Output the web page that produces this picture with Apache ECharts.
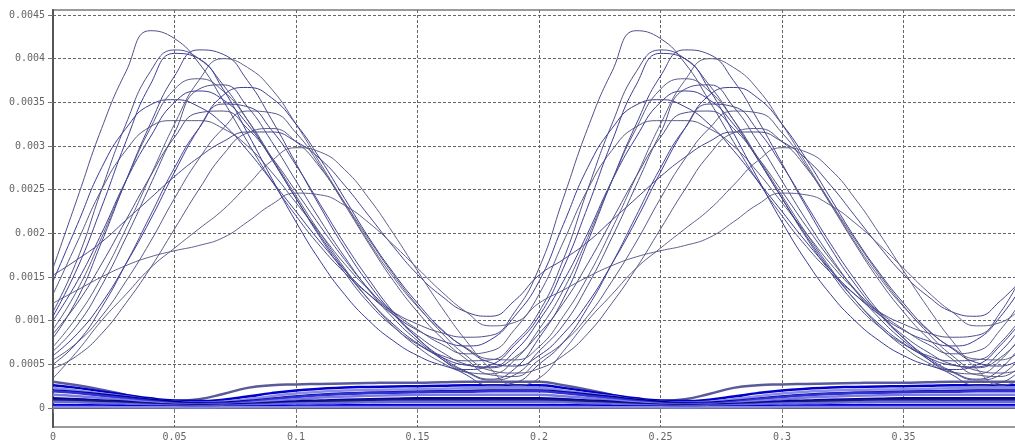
<!DOCTYPE html>
<html>
<head>
<meta charset="utf-8">
<script src="https://cdn.jsdelivr.net/npm/echarts@6/dist/echarts.min.js"></script>
<style>html,body{margin:0;padding:0;background:#fff}#c{width:1015px;height:442px}</style>
</head>
<body>
<div id="c"></div>
<script>
// Values are in units of 1e-4, sampled every 0.01 over one period (x = 0 .. 0.19); period = 0.2
const UNIT = 1e-4;
const STEP = 0.01;
const PERIODS = 2;
const xTicks = [0, 0.05, 0.1, 0.15, 0.2, 0.25, 0.3, 0.35, 0.4];
const yTicks = [0, 0.0005, 0.001, 0.0015, 0.002, 0.0025, 0.003, 0.0035, 0.004, 0.0045];

const bigA  = [16, 24, 32, 38.5, 43.2, 42.3, 39.5, 35.2, 30.5, 26, 22, 18.5, 15.5, 13, 11, 9.6, 8.6, 8.1, 8.3, 11];
const bigH  = [14.5, 21, 27.5, 32, 34.7, 35.3, 34.5, 32.5, 29.5, 26, 22.5, 19, 15.8, 13, 10.7, 8.9, 7.7, 7.1, 7.8, 10.5];
const bigI  = [13, 19, 25, 29.5, 32.2, 32.9, 32.9, 32, 30, 27, 23.5, 20, 16.5, 13.5, 11, 9, 7.3, 6.2, 6.5, 9];
const bigN  = [15.2, 17, 19, 21.5, 24, 26.5, 28.7, 30.5, 31.6, 31.6, 30.5, 28.5, 25.5, 22, 18.5, 15.3, 12.8, 11, 10.5, 12.3];
const bigL  = [12, 13.5, 15, 16.3, 17.3, 18, 18.6, 19.5, 21.3, 23.3, 24.6, 24.4, 23.2, 21.2, 18.7, 16, 13.3, 11, 9.4, 9.8];
const bigB1 = [11, 17, 25, 32.5, 38.5, 41, 40, 37, 33, 28.5, 24, 19.5, 15.5, 12, 9.3, 7.3, 6, 5.4, 5.5, 7.5];
const bigG  = [10, 14.5, 20, 26, 31, 35, 36.3, 35.3, 32.5, 28.5, 24, 19.7, 15.8, 12.4, 9.6, 7.4, 5.8, 4.9, 4.7, 6.5];
const bigD  = [9, 13.5, 19.5, 26, 32, 36.5, 37.7, 36.3, 33, 28.7, 24.3, 20, 16, 12.4, 9.4, 7, 5.2, 4.1, 3.9, 5.5];
const bigB2 = [8, 12.5, 19, 26, 32.5, 38, 41, 40.5, 37.5, 33, 28, 23, 18.3, 14.2, 10.8, 8, 5.8, 4.2, 3.3, 4.5];
const bigC  = [7, 10.5, 15, 20.5, 26.5, 32.5, 37.5, 40, 39, 36.5, 32.5, 28, 23.5, 19, 15, 11.6, 8.9, 6.9, 5.6, 5.5];
const bigE  = [6.5, 9.5, 14, 19.5, 25.5, 31.5, 36.5, 37, 34.5, 30.5, 26, 21.5, 17.3, 13.5, 10.3, 7.7, 5.6, 4.1, 3.2, 3.8];
const bigF  = [6, 8.5, 12, 16.5, 21.5, 27, 32, 35.8, 36.7, 35.5, 32.5, 28.5, 24, 19.5, 15.5, 12, 9, 6.8, 5.2, 4.8];
const bigJ  = [5.5, 7.5, 10.5, 14.5, 19, 24, 28.5, 32, 34, 33.8, 31.5, 27.7, 23.3, 18.8, 14.6, 11, 8, 5.6, 3.8, 3.6];
const bigJ2 = [5, 7.5, 11.5, 16.5, 22, 27.5, 32, 34.8, 34.5, 31.8, 27.8, 23.3, 18.8, 14.7, 11, 8, 5.6, 3.8, 2.6, 2.9];
const bigK  = [3.4, 6.5, 10, 13, 16, 18.3, 20.5, 22.7, 25.5, 28.3, 29.8, 29.3, 27.3, 24, 20, 15.7, 11.5, 7.7, 4.5, 2.6];
const bigP  = [8.5, 12, 16.5, 21.5, 26.5, 31, 33.8, 34, 32, 28.7, 24.8, 20.8, 17, 13.6, 10.7, 8.3, 6.4, 5, 4.6, 5.8];
const bigQ  = [10.5, 16, 23, 30.5, 37, 40.6, 40, 36.5, 31.5, 26.3, 21.3, 16.8, 13, 10, 7.7, 6, 4.9, 4.4, 4.9, 7.2];
const bigR  = [4.5, 6, 8.5, 12, 16, 20.5, 25, 29, 31.5, 32, 30.5, 27.5, 23.5, 19.3, 15.3, 11.7, 8.6, 6, 4.3, 4];

const small1  = [3.0, 2.6, 2.1, 1.5, 1.0, 0.8, 1.0, 1.6, 2.3, 2.6, 2.7, 2.75, 2.8, 2.85, 2.9, 2.9, 2.95, 3.0, 3.0, 3.0];
const small2  = [2.6, 2.3, 1.9, 1.5, 1.1, 0.85, 0.8, 0.95, 1.3, 1.7, 2.0, 2.2, 2.35, 2.4, 2.45, 2.5, 2.55, 2.6, 2.6, 2.6];
const small3  = [2.3, 2.0, 1.65, 1.3, 0.95, 0.7, 0.6, 0.7, 1.0, 1.35, 1.65, 1.85, 2.0, 2.05, 2.1, 2.15, 2.2, 2.25, 2.3, 2.3];
const small4  = [2.0, 1.8, 1.55, 1.25, 0.95, 0.7, 0.55, 0.6, 0.8, 1.05, 1.3, 1.5, 1.65, 1.75, 1.8, 1.85, 1.9, 1.95, 2.0, 2.0];
const small5  = [1.9, 1.7, 1.4, 1.1, 0.8, 0.55, 0.45, 0.5, 0.7, 1.0, 1.25, 1.45, 1.6, 1.7, 1.75, 1.8, 1.85, 1.85, 1.9, 1.9];
const small6  = [1.5, 1.35, 1.15, 0.9, 0.65, 0.45, 0.35, 0.4, 0.55, 0.8, 1.0, 1.2, 1.3, 1.4, 1.45, 1.5, 1.5, 1.5, 1.5, 1.5];
const small7  = [1.1, 1.0, 0.85, 0.7, 0.5, 0.35, 0.3, 0.35, 0.45, 0.6, 0.75, 0.85, 0.95, 1.0, 1.05, 1.1, 1.1, 1.1, 1.1, 1.1];
const small8  = [0.9, 0.85, 0.75, 0.6, 0.45, 0.35, 0.3, 0.3, 0.4, 0.5, 0.6, 0.7, 0.8, 0.85, 0.9, 0.9, 0.9, 0.9, 0.9, 0.9];
const small9  = [0.7, 0.65, 0.55, 0.45, 0.35, 0.25, 0.2, 0.25, 0.3, 0.4, 0.5, 0.55, 0.6, 0.65, 0.7, 0.7, 0.7, 0.7, 0.7, 0.7];
const small10 = [0.35, 0.32, 0.28, 0.22, 0.18, 0.14, 0.12, 0.13, 0.16, 0.2, 0.24, 0.28, 0.3, 0.32, 0.33, 0.34, 0.35, 0.35, 0.35, 0.35];
const small11 = [0.12, 0.11, 0.1, 0.09, 0.08, 0.07, 0.06, 0.07, 0.08, 0.09, 0.1, 0.11, 0.12, 0.12, 0.12, 0.12, 0.12, 0.12, 0.12, 0.12];

const bigCurves = [bigA, bigH, bigI, bigN, bigL, bigB1, bigG, bigD, bigB2, bigC, bigE, bigF, bigJ, bigJ2, bigK, bigP, bigQ, bigR];
const smallCurves = [small1, small2, small3, small4, small5, small6, small7, small8, small9, small10, small11];

const bigColors = ['#50508a', '#3c3c96', '#5a5a86', '#454590', '#60608c'];
const smallColors = ['#5a5a9a', '#0000cc', '#8c8ce8', '#000088', '#3030d8', '#7b7be0', '#0000aa', '#1a1a70', '#6a6ae0', '#0000dd', '#8888e0'];

function periodic(vals) {
  const out = [];
  const n = vals.length;
  for (let p = 0; p < PERIODS; p++) {
    for (let i = 0; i < n; i++) {
      out.push([+((p * n + i) * STEP).toFixed(2), vals[i] * UNIT]);
    }
  }
  out.push([+((PERIODS * n) * STEP).toFixed(2), vals[0] * UNIT]);
  return out;
}

const series = [];
smallCurves.forEach((c, i) => series.push({
  type: 'line', data: periodic(c), showSymbol: false, smooth: 0.5,
  lineStyle: { color: smallColors[i % smallColors.length], width: 2.5 }, silent: true
}));
bigCurves.forEach((c, i) => series.push({
  type: 'line', data: periodic(c), showSymbol: false, smooth: 0.5,
  lineStyle: { color: bigColors[i % bigColors.length], width: 1 }, silent: true
}));

const chart = echarts.init(document.getElementById('c'), null, { renderer: 'canvas' });
chart.setOption({
  animation: false,
  backgroundColor: '#ffffff',
  grid: { left: 53, top: 10, right: -10, bottom: 15, show: true, borderColor: '#9a9a9a', borderWidth: 2,
    containLabel: false, outerBoundsMode: 'none' },
  xAxis: {
    type: 'value', min: 0, max: 0.4, interval: 0.05,
    axisLine: { show: true, lineStyle: { color: '#555', width: 2 } },
    axisTick: { show: true, length: 5, lineStyle: { color: '#777' } },
    axisLabel: { color: '#666', fontFamily: 'DejaVu Sans Mono', fontSize: 10, margin: 5,
      formatter: v => String(v) },
    splitLine: { show: true, lineStyle: { color: '#666', type: [3, 2], width: 1 } }
  },
  yAxis: {
    type: 'value', min: -0.000218, max: 0.004557,
    axisLine: { show: true, lineStyle: { color: '#555', width: 2 } },
    axisTick: { show: true, length: 5, customValues: yTicks, lineStyle: { color: '#777' } },
    axisLabel: { color: '#666', fontFamily: 'DejaVu Sans Mono', fontSize: 10, margin: 8,
      customValues: yTicks, formatter: v => String(v) },
    splitLine: { show: true, lineStyle: { color: '#666', type: [3, 2], width: 1 } }
  },
  series: series
});
</script>
</body>
</html>
